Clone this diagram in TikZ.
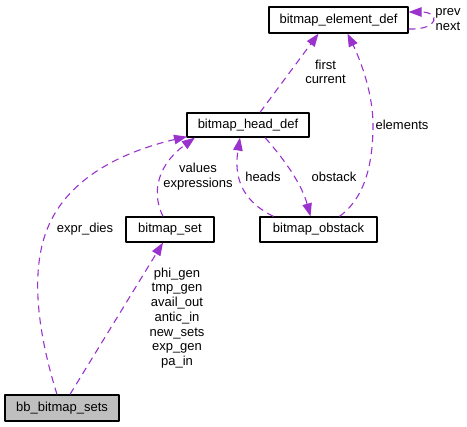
\documentclass[tikz,border=0pt]{standalone}
\usepackage{fontspec}
\setmainfont{Liberation Sans}
\usetikzlibrary{arrows.meta}
\begin{document}
\begin{tikzpicture}[x=1pt,y=-1pt,line join=round]
  \tikzset{
    cls/.style={draw=black,line width=1.2pt,fill=white,inner sep=0pt,minimum height=25pt},
    ref/.style={draw=dkorchid,line width=1.1pt,dash pattern=on 7pt off 5pt,
      -{Triangle[length=13pt,width=9.5pt]}},
    lbl/.style={font=\fontsize{13}{14.7}\selectfont,align=center,inner sep=0pt}
  }
  \definecolor{dkorchid}{HTML}{9A32CD}
  \definecolor{mainfill}{HTML}{BFBFBF}
  \useasboundingbox (0,0) rectangle (467,427);
  \fontsize{13}{14.7}\selectfont

  % Classes
  \node[cls,minimum width=139pt,minimum height=26pt] (elemdef) at (338.5,20) {bitmap\_element\_def};
  \node[cls,minimum width=122pt,minimum height=24pt] (headdef) at (248,125) {bitmap\_head\_def};
  \node[cls,minimum width=88pt] (bset) at (170,229.5) {bitmap\_set};
  \node[cls,minimum width=117pt] (obstack) at (318.5,229.5) {bitmap\_obstack};
  \node[cls,fill=mainfill,minimum width=114pt,minimum height=26pt] (bbsets) at (62,408) {bb\_bitmap\_sets};

  % Self reference
  \draw[ref] ([yshift=-9pt]elemdef.east) .. controls (440,30) and (440,12) .. ([yshift=8pt]elemdef.east);
  \node[lbl] (prevnext) at (448,19.5) {prev\\next};

  % head -> element
  \draw[ref] ([xshift=12pt]headdef.north) -- ([xshift=-20pt]elemdef.south);
  \node[lbl] (firstcur) at (325.5,72) {first\\current};

  % obstack -> element
  \draw[ref] ([xshift=21pt]obstack.north) .. controls (362,200) and (373,170) .. (373,125)
    .. controls (373,90) and (358,55) .. ([xshift=9pt]elemdef.south);
  \node[lbl] (elements) at (402,125) {elements};

  % obstack <-> head
  \draw[ref] ([xshift=-45pt]obstack.north) .. controls (240,200) and (234,175) .. ([xshift=-8pt]headdef.south);
  \node[lbl] (heads) at (263,176.5) {heads};
  \draw[ref] ([xshift=17pt]headdef.south) .. controls (285,160) and (302,185) .. ([xshift=-8pt]obstack.north);
  \node[lbl] (obstacklbl) at (334,176.5) {obstack};

  % set -> head
  \draw[ref] ([xshift=-7pt]bset.north) .. controls (150,190) and (160,163) .. ([xshift=-53pt]headdef.south);
  \node[lbl] (valexpr) at (198,176.5) {values\\expressions};

  % bb sets -> head, set
  \draw[ref] ([xshift=-5pt]bbsets.north) .. controls (40,340) and (30,280) .. (45,235)
    .. controls (65,175) and (130,150) .. ([xshift=-61pt,yshift=1pt]headdef.south);
  \node[lbl] (exprdies) at (85,229) {expr\_dies};
  \draw[ref] ([xshift=8pt]bbsets.north) -- ([xshift=-7pt]bset.south);
  \node[lbl] (setlist) at (177,318) {phi\_gen\\tmp\_gen\\avail\_out\\antic\_in\\new\_sets\\exp\_gen\\pa\_in};
\end{tikzpicture}
\end{document}
